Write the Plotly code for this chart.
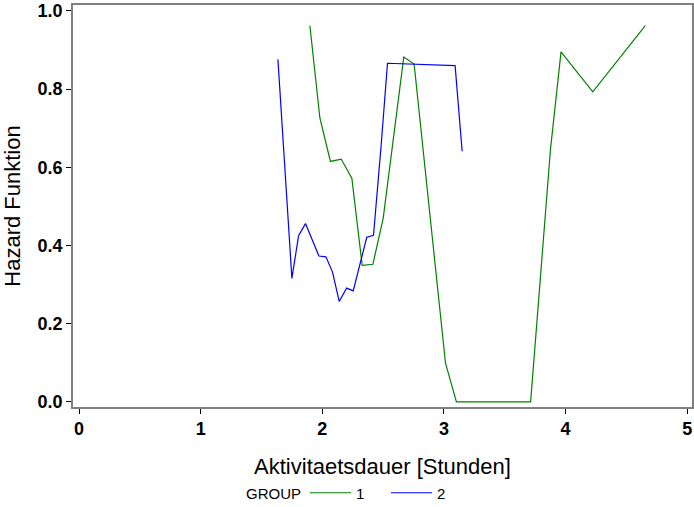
import plotly.graph_objects as go

# Smoothed hazard estimates per group (duration in hours)
group1_x = [1.898, 1.980, 2.067, 2.155, 2.243, 2.328, 2.416, 2.501, 2.670, 2.755,
            3.013, 3.103, 3.713, 3.876, 3.963, 4.224, 4.656]
group1_y = [0.962, 0.726, 0.615, 0.621, 0.572, 0.349, 0.352, 0.470, 0.882, 0.864,
            0.099, 0.0, 0.0, 0.645, 0.895, 0.793, 0.962]

group2_x = [1.635, 1.750, 1.805, 1.862, 1.972, 2.030, 2.084, 2.139, 2.200, 2.254,
            2.366, 2.421, 2.485, 2.536, 3.092, 3.150]
group2_y = [0.876, 0.316, 0.425, 0.456, 0.373, 0.371, 0.332, 0.257, 0.291, 0.284,
            0.421, 0.426, 0.660, 0.866, 0.860, 0.641]

x_ticks = [0, 1, 2, 3, 4, 5]
y_ticks = [0.0, 0.2, 0.4, 0.6, 0.8, 1.0]

W, H = 694, 507
ML, MR, MT, MB = 73, 2, 5, 100
PW, PH = W - ML - MR, H - MT - MB

def px_x(p):
    return (p - ML) / PW

def px_y(p):
    return (H - MB - p) / PH

fig = go.Figure()
fig.add_trace(go.Scatter(x=group1_x, y=group1_y, mode="lines", name="1    ",
                         line=dict(color="#008000", width=1.2)))
fig.add_trace(go.Scatter(x=group2_x, y=group2_y, mode="lines", name="2",
                         line=dict(color="#0000FF", width=1.2)))

base = "Liberation Sans, Arial, sans-serif"
tick_font = dict(family=base, size=18, color="black", weight="bold")
title_font = dict(family=base, size=22, color="black")
legend_font = dict(family=base, size=15, color="black")

fig.add_annotation(text="GROUP", xref="paper", yref="paper",
                   x=px_x(303), y=px_y(493), xanchor="right", yanchor="middle",
                   showarrow=False, font=legend_font)

fig.update_layout(
    width=W, height=H,
    margin=dict(l=ML, r=MR, t=MT, b=MB, autoexpand=False),
    paper_bgcolor="white", plot_bgcolor="white",
    showlegend=True,
    legend=dict(
        orientation="h", x=px_x(305), xanchor="left",
        y=px_y(493), yanchor="middle",
        font=legend_font,
        bgcolor="rgba(0,0,0,0)", itemwidth=41, tracegroupgap=0,
    ),
    xaxis=dict(
        range=[-0.05, 5.04], tickvals=x_ticks, ticktext=[str(v) for v in x_ticks],
        ticks="outside", ticklen=5, tickcolor="black", tickwidth=1,
        showgrid=False, zeroline=False,
        showline=True, linecolor="#808080", linewidth=1.5, mirror=True,
        tickfont=tick_font,
        title=dict(text="Aktivitaetsdauer [Stunden]", font=title_font, standoff=20),
        automargin=False,
    ),
    yaxis=dict(
        range=[-0.013, 1.015], tickvals=y_ticks, ticktext=[f"{v:.1f}" for v in y_ticks],
        ticks="outside", ticklen=5, tickcolor="black", tickwidth=1,
        showgrid=False, zeroline=False,
        showline=True, linecolor="#808080", linewidth=1.5, mirror=True,
        tickfont=tick_font,
        title=dict(text="Hazard Funktion", font=title_font, standoff=12),
        automargin=False,
    ),
)

fig.write_html("out.html")
